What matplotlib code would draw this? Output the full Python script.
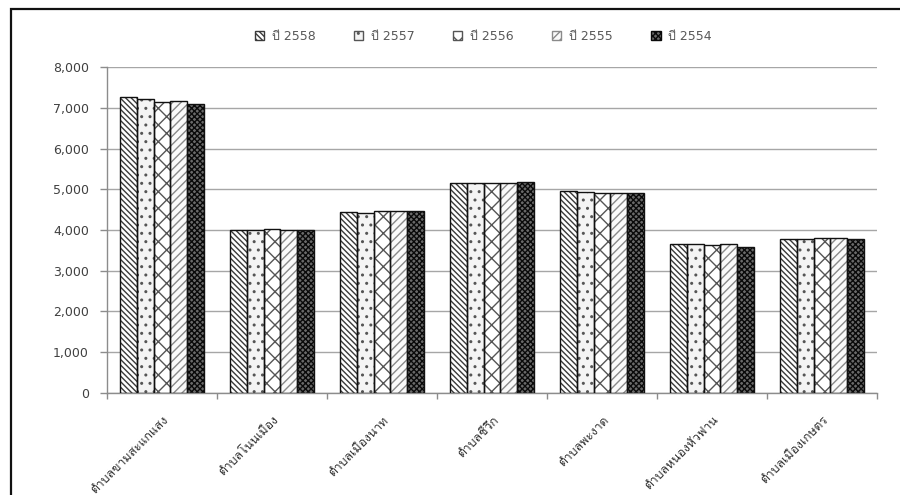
import matplotlib
matplotlib.use("Agg")
import matplotlib.pyplot as plt
from matplotlib.patches import Patch, Rectangle
from matplotlib.ticker import FuncFormatter, MultipleLocator
import numpy as np

plt.rcParams['font.family'] = ['DejaVu Sans', 'Loma']
plt.rcParams['hatch.linewidth'] = 1.0

categories = ["ตำบลขามสะแกแสง", "ตำบลโนนเมือง", "ตำบลเมืองนาท", "ตำบลชีวึก",
              "ตำบลพะงาด", "ตำบลหนองหัวฟาน", "ตำบลเมืองเกษตร"]
series_labels = ["ปี 2558", "ปี 2557", "ปี 2556", "ปี 2555", "ปี 2554"]
y2558 = [7260, 4010, 4450, 5160, 4960, 3660, 3790]
y2557 = [7210, 3990, 4420, 5150, 4930, 3665, 3780]
y2556 = [7145, 4035, 4460, 5150, 4920, 3640, 3810]
y2555 = [7170, 4010, 4460, 5150, 4920, 3665, 3810]
y2554 = [7110, 4000, 4460, 5170, 4900, 3590, 3790]
series = [y2558, y2557, y2556, y2555, y2554]

# fill, hatch, hatch colour for each year
styles = [
    ("white", "\\" * 6, "#3a3a3a"),
    ("#f4f4f4", "..", "#555555"),
    ("white", "xx", "#555555"),
    ("#fafafa", "////", "#8a8a8a"),
    ("#6a6a6a", "xxxxxx", "#0a0a0a"),
]

fig = plt.figure(figsize=(9, 4.95), dpi=100)
ax = fig.add_axes([107 / 900, 1 - 392.7 / 495, 770 / 900, 325.4 / 495])

n = len(series)
x = np.arange(len(categories))
w = 1 / (n + 1.5)
for i, (vals, (fc, ht, hc)) in enumerate(zip(series, styles)):
    pos = x + (i - (n - 1) / 2) * w
    ax.bar(pos, vals, width=w, color=fc, hatch=ht, edgecolor=hc,
           linewidth=0, zorder=2)
    ax.bar(pos, vals, width=w, fill=False, edgecolor="#111111",
           linewidth=1.0, zorder=3)

ax.set_xlim(-0.5, len(categories) - 0.5)
ax.set_ylim(0, 8000)
ax.yaxis.set_major_locator(MultipleLocator(1000))
ax.yaxis.set_major_formatter(FuncFormatter(lambda v, p: f"{int(v):,}"))
ax.grid(axis="y", color="#a6a6a6", linewidth=1.0, zorder=0)
ax.set_axisbelow(True)

for s in ("top", "right"):
    ax.spines[s].set_visible(False)
for s in ("left", "bottom"):
    ax.spines[s].set_color("#8c8c8c")
    ax.spines[s].set_linewidth(1.0)

ax.tick_params(axis="y", length=5, width=1, color="#8c8c8c", pad=8,
               labelsize=9, labelcolor="#404040")
ax.set_xticks(np.arange(-0.5, len(categories)), labels=[])
ax.tick_params(axis="x", which="major", length=4, width=1, color="#8c8c8c",
               direction="out")
ax.set_xticks(x, labels=categories, minor=True)
ax.tick_params(axis="x", which="minor", length=0, pad=15, labelsize=8.8,
               labelcolor="#303030")
for lab in ax.get_xticklabels(minor=True):
    lab.set_rotation(45)
    lab.set_ha("right")
    lab.set_va("top")
    lab.set_rotation_mode("anchor")

handles = [Patch(facecolor=fc, hatch=ht, edgecolor=hc) for fc, ht, hc in styles]
fig.legend(handles, series_labels, loc="center", bbox_to_anchor=(0.537, 1 - 36 / 495),
           ncol=5, frameon=False, fontsize=9, labelcolor="#595959",
           handlelength=0.75, handleheight=0.75, handletextpad=0.6,
           columnspacing=3.08)

# page frame
fig.patches.append(Rectangle((11 / 900, -0.2), 1.2, 1.2 - 9 / 495,
                             transform=fig.transFigure, fill=False,
                             edgecolor="#111111", linewidth=1.6))

fig.savefig("out.png", dpi=100)
